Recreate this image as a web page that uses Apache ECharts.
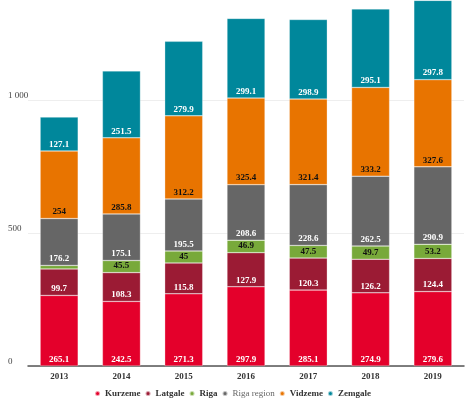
<!DOCTYPE html>
<html lang="en">
<head>
  <meta charset="UTF-8">
  <title>Regions stacked bars</title>
  <style>
    html, body { margin: 0; padding: 0; background: #fff; }
    #chart { width: 465px; height: 399px; }
  </style>
</head>
<body>
  <div id="chart"></div>
  <script src="https://cdn.jsdelivr.net/npm/echarts@6/dist/echarts.min.js"></script>
  <script>
    // data
    const years = ['2013', '2014', '2015', '2016', '2017', '2018', '2019'];
    const kurzeme = [265.1, 242.5, 271.3, 297.9, 285.1, 274.9, 279.6];
    const latgale = [99.7, 108.3, 115.8, 127.9, 120.3, 126.2, 124.4];
    const riga = [13, 45.5, 45, 46.9, 47.5, 49.7, 53.2];
    const rigaRegion = [176.2, 175.1, 195.5, 208.6, 228.6, 262.5, 290.9];
    const vidzeme = [254, 285.8, 312.2, 325.4, 321.4, 333.2, 327.6];
    const zemgale = [127.1, 251.5, 279.9, 299.1, 298.9, 295.1, 297.8];

    const font = '"Liberation Serif", "DejaVu Serif", serif';

    const makeSeries = (name, data, color, labelColor, hideBelow) => ({
      name: name,
      type: 'bar',
      stack: 'total',
      barWidth: 38,
      data: data,
      itemStyle: { color: color, borderColor: 'rgba(255,255,255,0.6)', borderWidth: 0.5 },
      label: {
        show: true,
        position: 'insideBottom',
        distance: 2,
        color: labelColor,
        fontFamily: font,
        fontWeight: 'bold',
        fontSize: 9,
        formatter: p => (hideBelow && p.value < hideBelow) ? '' : p.value
      }
    });

    const chart = echarts.init(document.getElementById('chart'));
    chart.setOption({
      animation: false,
      textStyle: { fontFamily: font },
      grid: { left: 28, right: 1, top: 0, bottom: 33 },
      legend: {
        top: 384,
        left: 'center',
        icon: 'circle',
        itemWidth: 5,
        itemHeight: 5,
        itemGap: 4,
        data: [
          'Kurzeme', 'Latgale', 'Riga',
          { name: 'Riga region', textStyle: { fontWeight: 'normal', color: '#666' } },
          'Vidzeme', 'Zemgale'
        ],
        textStyle: { fontFamily: font, fontWeight: 'bold', fontSize: 9, color: '#333' }
      },
      xAxis: {
        type: 'category',
        data: years,
        axisTick: { show: false },
        axisLine: { lineStyle: { color: '#555', width: 1.5 } },
        axisLabel: { color: '#333', fontFamily: font, fontWeight: 'bold', fontSize: 9, margin: 6 }
      },
      yAxis: {
        type: 'value',
        min: 0,
        max: 1375,
        interval: 500,
        axisLabel: {
          showMaxLabel: false,
          align: 'left',
          margin: 20,
          verticalAlign: 'bottom',
          color: '#444',
          fontFamily: font,
          fontSize: 9,
          formatter: v => v >= 1000 ? String(v).replace(/\B(?=(\d{3})+$)/g, ' ') : String(v)
        },
        splitLine: { showMaxLine: false, lineStyle: { color: '#eee' } }
      },
      series: [
        makeSeries('Kurzeme', kurzeme, '#e4002b', '#fff'),
        makeSeries('Latgale', latgale, '#9b1b34', '#fff'),
        makeSeries('Riga', riga, '#78a93a', '#111', 20),
        makeSeries('Riga region', rigaRegion, '#666666', '#fff'),
        makeSeries('Vidzeme', vidzeme, '#e87400', '#111'),
        makeSeries('Zemgale', zemgale, '#00879b', '#fff')
      ]
    });
  </script>
</body>
</html>
